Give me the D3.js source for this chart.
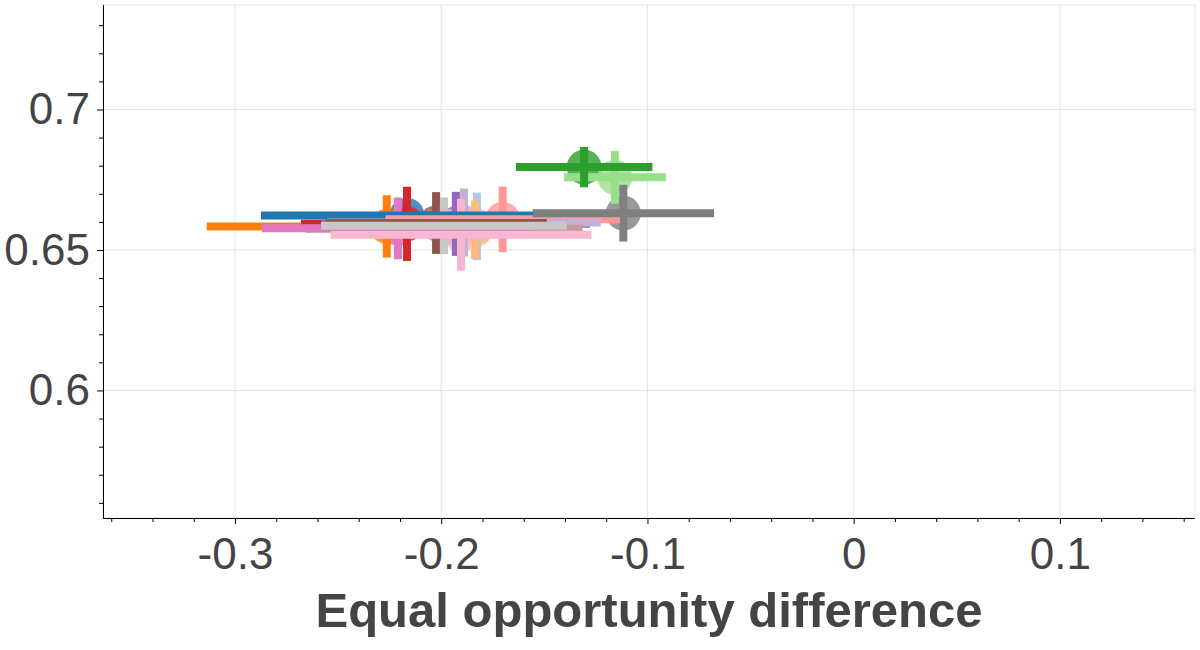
<!DOCTYPE html>
<html>
<head>
<meta charset="utf-8">
<script src="https://cdn.jsdelivr.net/npm/d3@7"></script>
<style>
  html, body { margin: 0; padding: 0; background: #fff; }
  svg text { font-family: "Liberation Sans", Arial, Helvetica, sans-serif; fill: #444444; }
</style>
</head>
<body>
<svg id="chart" width="1200" height="650"></svg>
<script>
// ---- data ----
const colors = ["#1f77b4","#aec7e8","#ff7f0e","#ffbb78","#2ca02c","#98df8a","#d62728","#ff9896",
                "#9467bd","#c5b0d5","#8c564b","#c49c94","#e377c2","#f7b6d2","#7f7f7f","#c7c7c7"];
const xValues = [-0.2166,-0.1827,-0.2264,-0.1836,-0.1307,-0.1158,-0.2166,-0.1702,
                 -0.1929,-0.1890,-0.2025,-0.1987,-0.2210,-0.1904,-0.1117,-0.1987];
const xErrors = [0.0708,0.0400,0.0873,0.0450,0.0331,0.0247,0.0514,0.0569,
                 0.0650,0.0663,0.0537,0.0672,0.0659,0.0632,0.0440,0.0596];
const yValues = [0.6623,0.6584,0.6584,0.6572,0.6795,0.6759,0.6593,0.6609,
                 0.6593,0.6598,0.6596,0.6576,0.6577,0.6554,0.6631,0.6586];
const yErrors = [0.0095,0.0120,0.0111,0.0104,0.0072,0.0094,0.0132,0.0117,
                 0.0114,0.0121,0.0110,0.0085,0.0110,0.0128,0.0101,0.0101];
const xMajorTicks = [-0.3,-0.2,-0.1,0,0.1];
const yMajorTicks = [0.6,0.65,0.7];
const xLabel = "Equal opportunity difference";

const points = colors.map((c,i) => ({color:c, x:xValues[i], xe:xErrors[i], y:yValues[i], ye:yErrors[i], i}));

// ---- layout ----
const svg = d3.select("#chart");
const pL = 103, pR = 1195, pT = 5, pB = 518;
const x = d3.scaleLinear().domain([-0.364, 0.1655]).range([pL, pR]);
const y = d3.scaleLinear().domain([0.5546, 0.7372]).range([pB, pT]);

const fmt = d => String(Math.round(d*100)/100);
const xMinor = d3.range(-36, 17, 2).map(v => v/100).filter(v => !xMajorTicks.some(t => Math.abs(t-v) < 1e-9));
const yMinor = d3.range(56, 74, 1).map(v => v/100).filter(v => !yMajorTicks.some(t => Math.abs(t-v) < 1e-9));

// outline
svg.append("rect").attr("x", pL).attr("y", pT).attr("width", pR-pL).attr("height", pB-pT)
   .attr("fill","none").attr("stroke","#e5e5e5").attr("stroke-width",1);

// grid
svg.append("g").selectAll("line").data(xMajorTicks).join("line")
   .attr("x1", d => x(d)).attr("x2", d => x(d)).attr("y1", pT).attr("y2", pB)
   .attr("stroke","#e5e5e5").attr("stroke-width",1);
svg.append("g").selectAll("line").data(yMajorTicks).join("line")
   .attr("x1", pL).attr("x2", pR).attr("y1", d => y(d)).attr("y2", d => y(d))
   .attr("stroke","#e5e5e5").attr("stroke-width",1);

// marks
const plot = svg.append("g");
plot.selectAll("circle").data(points).join("circle")
   .attr("cx", d => x(d.x)).attr("cy", d => y(d.y)).attr("r", 17.5)
   .attr("fill", d => d.color).attr("fill-opacity", 0.8);

const greenIdx = 4;
plot.append("g").selectAll("line").data(points.filter(d => d.i !== greenIdx)).join("line")
   .attr("x1", d => x(d.x)).attr("x2", d => x(d.x))
   .attr("y1", d => y(d.y - d.ye)).attr("y2", d => y(d.y + d.ye))
   .attr("stroke", d => d.color).attr("stroke-width", 8);
plot.append("g").selectAll("line").data(points).join("line")
   .attr("x1", d => x(d.x - d.xe)).attr("x2", d => x(d.x + d.xe))
   .attr("y1", d => y(d.y)).attr("y2", d => y(d.y))
   .attr("stroke", d => d.color).attr("stroke-width", 8);
plot.append("g").selectAll("line").data(points.filter(d => d.i === greenIdx)).join("line")
   .attr("x1", d => x(d.x)).attr("x2", d => x(d.x))
   .attr("y1", d => y(d.y - d.ye)).attr("y2", d => y(d.y + d.ye))
   .attr("stroke", d => d.color).attr("stroke-width", 8);

// axes
const gx = svg.append("g").attr("transform", `translate(0,${pB})`);
gx.call(d3.axisBottom(x).tickValues(xMinor).tickSize(4).tickSizeOuter(0).tickFormat(""));
gx.append("g").call(d3.axisBottom(x).tickValues(xMajorTicks).tickSize(6).tickSizeOuter(0).tickPadding(14).tickFormat(fmt));
const gy = svg.append("g").attr("transform", `translate(${pL},0)`);
gy.call(d3.axisLeft(y).tickValues(yMinor).tickSize(4).tickSizeOuter(0).tickFormat(""));
gy.append("g").call(d3.axisLeft(y).tickValues(yMajorTicks).tickSize(6).tickSizeOuter(0).tickPadding(7).tickFormat(fmt));

svg.selectAll(".domain").attr("stroke","#000");
svg.selectAll(".tick line").attr("stroke","#000");
svg.selectAll(".tick text").attr("font-size", 44).attr("fill","#444444")
   .style("font-family", '"Liberation Sans", Arial, Helvetica, sans-serif');
gx.selectAll(".domain").attr("d", `M${pL},0.5H${pR}`);
gy.selectAll(".domain").attr("d", `M0.5,${pT}V${pB}`);

svg.append("text").attr("x", (pL+pR)/2).attr("y", 627)
   .attr("text-anchor","middle").attr("font-size", 49).attr("font-weight","bold")
   .text(xLabel);
</script>
</body>
</html>
